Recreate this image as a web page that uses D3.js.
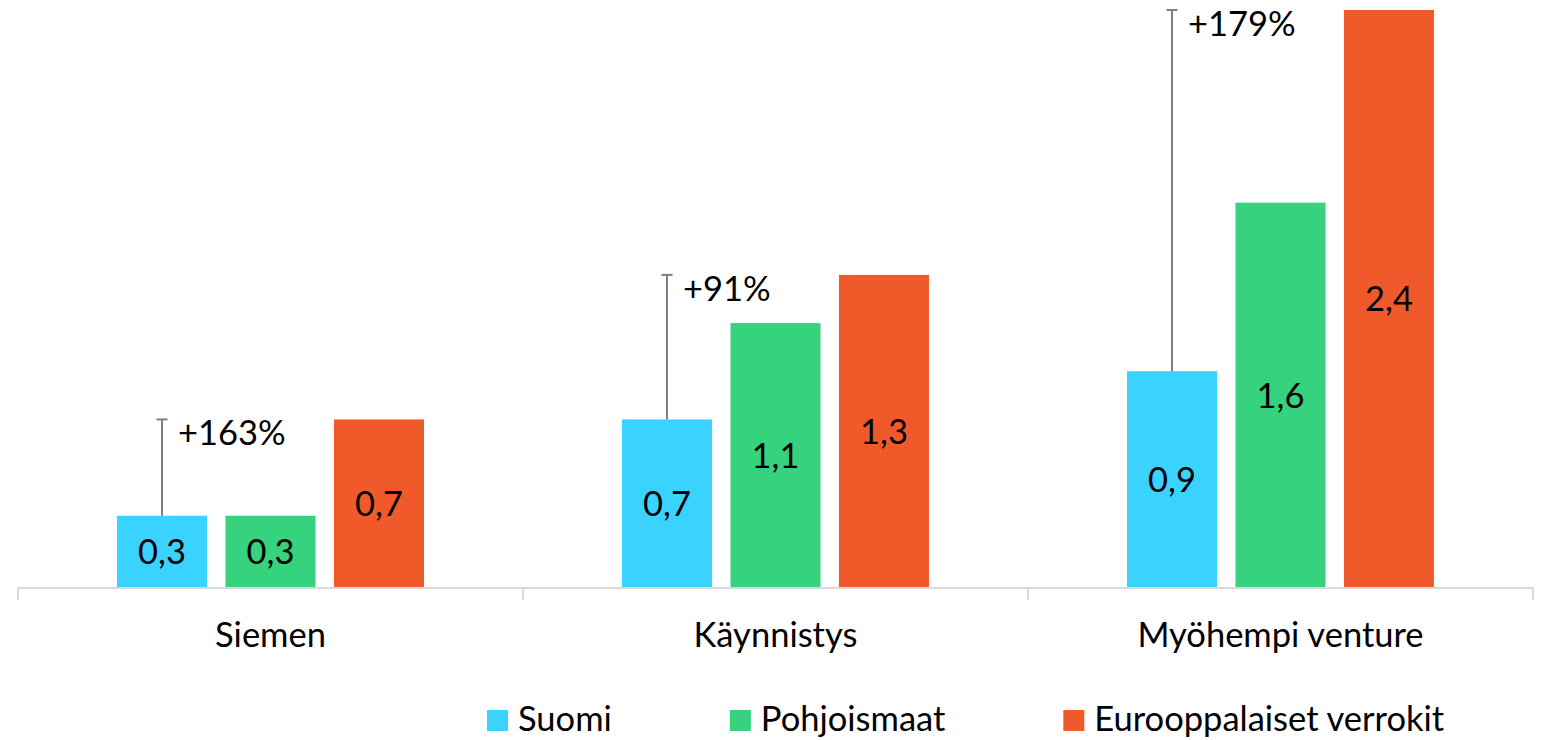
<!DOCTYPE html>
<html>
<head>
<meta charset="utf-8">
<script src="https://cdn.jsdelivr.net/npm/d3@7"></script>
<style>
  body { margin: 0; background: #fff; }
  text { font-family: Lato, "Open Sans", sans-serif; fill: #000; }
</style>
</head>
<body>
<script>
//chart data
var categories = ["Siemen", "Käynnistys", "Myöhempi venture"];
var seriesNames = ["Suomi", "Pohjoismaat", "Eurooppalaiset verrokit"];
var suomi = [0.3, 0.7, 0.9];
var pohjoismaat = [0.3, 1.1, 1.6];
var eurooppa = [0.7, 1.3, 2.4];
var diffLabels = ["+163%", "+91%", "+179%"];
var colors = ["#3ad3ff", "#36d27e", "#f05a2b"];

var width = 1544,
    height = 740,
    fontSize = 34.5;

var svg = d3.select("body")
    .append("svg")
    .attr("width", width)
    .attr("height", height);

//category scale spans the axis line
var x0 = d3.scaleBand()
    .domain(categories)
    .range([18, 1533]);

//bars inside each category
var x1 = d3.scaleBand()
    .domain(seriesNames)
    .range([99, x0.bandwidth() - 99])
    .paddingInner(0.17);

var y = d3.scaleLinear()
    .domain([0, 2.4])
    .range([588, 10]);

var rows = categories.map(function(c, i){
    return {cat: c, values: [suomi[i], pohjoismaat[i], eurooppa[i]], diff: diffLabels[i]};
});

var groups = svg.selectAll(".group")
    .data(rows)
    .enter()
    .append("g")
    .attr("class", "group")
    .attr("transform", function(d){ return "translate(" + x0(d.cat) + ",0)"; });

groups.selectAll("rect")
    .data(function(d){ return d.values.map(function(v, j){ return {name: seriesNames[j], v: v, j: j}; }); })
    .enter()
    .append("rect")
    .attr("x", function(d){ return x1(d.name); })
    .attr("y", function(d){ return y(d.v); })
    .attr("width", x1.bandwidth())
    .attr("height", function(d){ return y(0) - y(d.v); })
    .attr("fill", function(d){ return colors[d.j]; });

//value labels in the middle of each bar
groups.selectAll(".val")
    .data(function(d){ return d.values.map(function(v, j){ return {name: seriesNames[j], v: v}; }); })
    .enter()
    .append("text")
    .attr("class", "val")
    .attr("x", function(d){ return x1(d.name) + x1.bandwidth() / 2; })
    .attr("y", function(d){ return (y(d.v) + y(0)) / 2; })
    .attr("dy", "0.36em")
    .attr("text-anchor", "middle")
    .style("font-size", fontSize + "px")
    .text(function(d){ return d3.format(".1f")(d.v).replace(".", ","); });

//difference line from Suomi bar up to the european bar
var cx = x1(seriesNames[0]) + x1.bandwidth() / 2;
groups.append("line")
    .attr("x1", cx).attr("x2", cx)
    .attr("y1", function(d){ return y(d.values[0]); })
    .attr("y2", function(d){ return y(d.values[2]); })
    .attr("stroke", "#7f7f7f")
    .attr("stroke-width", 2);

groups.append("line")
    .attr("x1", cx - 5.5).attr("x2", cx + 5.5)
    .attr("y1", function(d){ return y(d.values[2]); })
    .attr("y2", function(d){ return y(d.values[2]); })
    .attr("stroke", "#7f7f7f")
    .attr("stroke-width", 2);

groups.append("text")
    .attr("x", cx + 16)
    .attr("y", function(d){ return y(d.values[2]) + 26; })
    .style("font-size", fontSize + "px")
    .text(function(d){ return d.diff; });

//category axis
var axis = svg.append("g")
    .attr("transform", "translate(0," + y(0) + ")");

axis.append("line")
    .attr("x1", 18).attr("x2", 1533)
    .attr("y1", 0).attr("y2", 0)
    .attr("stroke", "#d9d9d9")
    .attr("stroke-width", 2);

var tickPos = categories.map(function(c){ return x0(c); }).concat([x0.range()[1]]);
axis.selectAll(".tick")
    .data(tickPos)
    .enter()
    .append("line")
    .attr("x1", function(d){ return d; })
    .attr("x2", function(d){ return d; })
    .attr("y1", 0).attr("y2", 12)
    .attr("stroke", "#d9d9d9")
    .attr("stroke-width", 2);

axis.selectAll(".catlabel")
    .data(categories)
    .enter()
    .append("text")
    .attr("x", function(d){ return x0(d) + x0.bandwidth() / 2; })
    .attr("y", 59)
    .attr("text-anchor", "middle")
    .style("font-size", fontSize + "px")
    .text(function(d){ return d; });

//legend
var legend = svg.append("g");
var lx = 487;
seriesNames.forEach(function(name, i){
    legend.append("rect")
        .attr("x", lx).attr("y", 710)
        .attr("width", 21).attr("height", 21)
        .attr("fill", colors[i]);
    var t = legend.append("text")
        .attr("x", lx + 31)
        .attr("y", 731)
        .style("font-size", fontSize + "px")
        .text(name);
    lx = lx + 31 + t.node().getComputedTextLength() + 118;
});
</script>
</body>
</html>
